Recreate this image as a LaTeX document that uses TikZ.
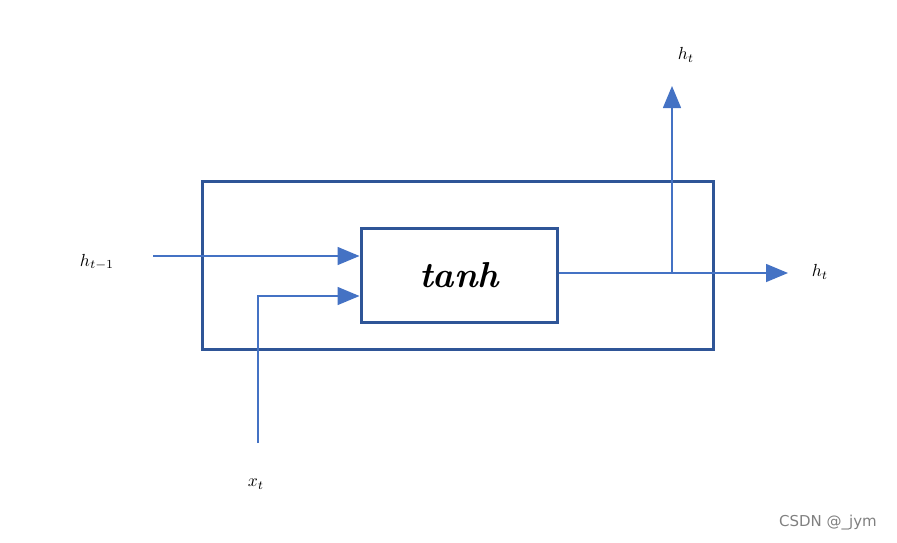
\documentclass[tikz,border=0pt]{standalone}
\usepackage{graphicx}
\usepackage{fontspec}
\setsansfont{DejaVu Sans}
\usetikzlibrary{arrows.meta}
\begin{document}
\begin{tikzpicture}[x=1pt,y=-1pt,
  ln/.style={draw=lineblue,line width=1.5pt},
  arr/.style={ln,-{Triangle[length=22pt,width=18pt]}},
  box/.style={draw=boxblue,line width=3pt},
  lab/.style={inner sep=0pt}]
\definecolor{lineblue}{HTML}{4472C4}
\definecolor{boxblue}{HTML}{2F5597}
\useasboundingbox (0,0) rectangle (897,542);
\draw[box] (202,181) rectangle (713,349);
\node[box,minimum width=196pt,minimum height=94pt,inner sep=0pt] (tanh) at (459,275)
  {\fontsize{36}{42}\selectfont\bfseries\itshape tanh};
\node[lab] (hin) at (97,262) {\scalebox{1.75}{$h_{t-1}$}};
\node[lab] (x) at (256,484) {\scalebox{1.75}{$x_t$}};
\node[lab] (hout) at (820,272) {\scalebox{1.75}{$h_t$}};
\node[lab] (hup) at (686,55) {\scalebox{1.75}{$h_t$}};
\coordinate (hs) at (153,256);
\coordinate (xs) at (258,443);
\coordinate (xc) at (258,296);
\coordinate (j) at (672,273);
\coordinate (he) at (788,273);
\coordinate (ue) at (672,86);
\draw[arr] (hs) -- (hs -| tanh.west);
\draw[arr] (xs) -- (xc) -- (xc -| tanh.west);
\draw[arr] (tanh.east |- j) -- (he);
\draw[arr] (j) -- (ue);
\node[font=\fontsize{15}{17}\selectfont\sffamily,text=gray] (wm) at (828,523) {CSDN @\_jym};
\end{tikzpicture}
\end{document}
